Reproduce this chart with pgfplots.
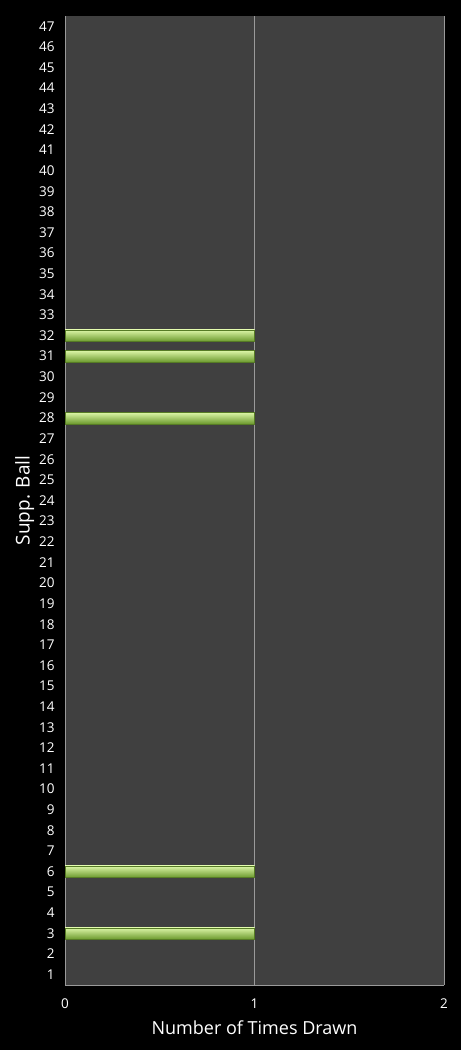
\documentclass[border=0pt]{standalone}
\usepackage{pgfplots}
\pgfplotsset{compat=1.18}
\usepackage{fontspec}
\setmainfont{Open Sans}
\definecolor{plotbg}{HTML}{404040}
\definecolor{frame}{HTML}{9A9A9A}
\definecolor{barmid}{HTML}{A6DA56}
\definecolor{bartop}{HTML}{DDF7A8}
\definecolor{barbot}{HTML}{6C9A2E}
\pgfplotsset{
    greenbar/.style={draw=barbot!80!black, line width=0.3pt,
        top color=bartop, middle color=barmid, bottom color=barbot,
        bar shift=0pt},
}
\begin{document}
\begin{tikzpicture}
\fill[black] (0,0) rectangle (461bp,1050bp);
\begin{axis}[
    at={(65bp,65bp)}, anchor=south west,
    scale only axis,
    width=379bp, height=969bp,
    xbar,
    bar width=0.56,
    xmin=0, xmax=2,
    ymin=0.5, ymax=47.5,
    xtick={0,1,2},
    ytick={1,...,47},
    major tick length=0pt,
    axis background/.style={fill=plotbg},
    axis x line*=bottom,
    axis y line*=left,
    axis line style={frame, line width=0.8pt, -},
    xmajorgrids,
    grid style={frame, line width=0.6pt},
    ticklabel style={text=white, font=\fontsize{13.5bp}{15bp}\selectfont},
    /pgf/number format/assume math mode=true,
    yticklabel style={xshift=-7bp},
    xticklabel style={yshift=-10bp},
    xlabel={Number of Times Drawn},
    ylabel={Supp. Ball},
    label style={text=white},
    xlabel style={font=\fontsize{18bp}{20bp}\selectfont, yshift=-5bp},
    ylabel style={font=\fontsize{19bp}{21bp}\selectfont, yshift=-2bp},
]
% supplementary balls drawn once
\addplot[greenbar] coordinates {(1,3)};
\addplot[greenbar] coordinates {(1,6)};
\addplot[greenbar] coordinates {(1,28)};
\addplot[greenbar] coordinates {(1,31)};
\addplot[greenbar] coordinates {(1,32)};
\end{axis}
\end{tikzpicture}
\end{document}
